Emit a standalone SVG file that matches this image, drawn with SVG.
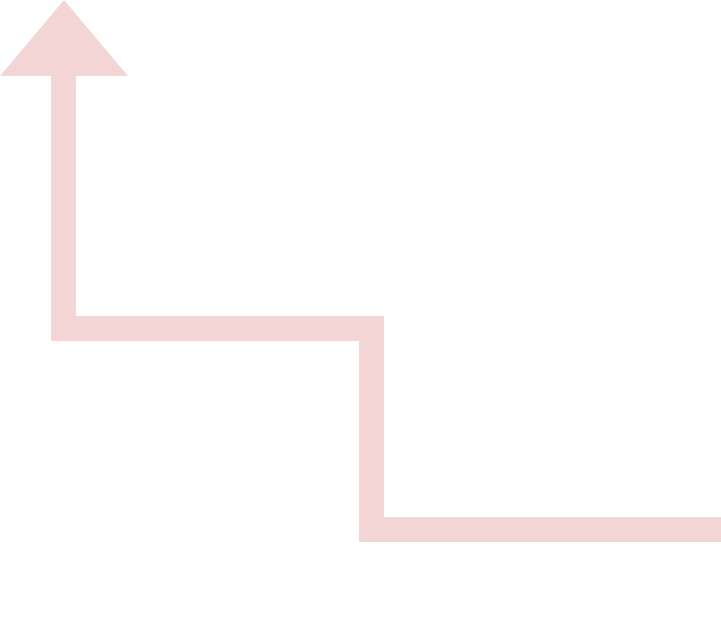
<svg xmlns="http://www.w3.org/2000/svg" width="721" height="621" viewBox="0 0 721 621">
<style>.conn{fill:none;stroke:#F4D5D6;stroke-width:25;stroke-linejoin:miter;stroke-linecap:butt}.head{fill:#F4D5D6}</style>
<rect width="721" height="621" fill="#FFFFFF"/>
<g id="connectors">
<polyline class="conn" points="63.5,70 63.5,328.5 371.5,328.5 371.5,529.5 721,529.5"/>
<polygon class="head" points="64,0 128,76 0,76"/>
</g>
</svg>
